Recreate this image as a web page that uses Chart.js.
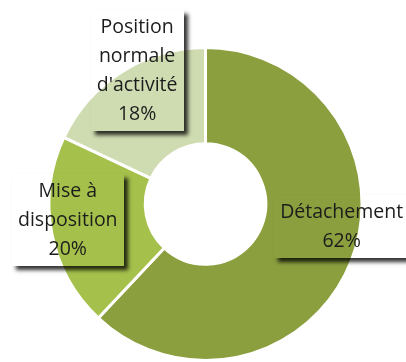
<!DOCTYPE html>
<html>
<head>
<meta charset="utf-8">
<script src="https://cdn.jsdelivr.net/npm/chart.js@4/dist/chart.umd.min.js"></script>
<style>
  html, body { margin: 0; padding: 0; background: #ffffff; }
  #wrap { width: 406px; height: 362px; position: relative; }
</style>
</head>
<body>
<div id="wrap"><canvas id="c" width="406" height="362"></canvas></div>
<script>
// ---- data ----
const categories = ["Détachement", "Mise à disposition", "Position normale d'activité"];
const labelLines = [["Détachement", "62%"], ["Mise à", "disposition", "20%"], ["Position", "normale", "d'activité", "18%"]];
const values = [62, 20, 18];
const colors = ["#8B9F3E", "#A5C14B", "#CFDCB1"];
// label box centre, as fraction of outer radius from the ring centre
const labelOffsets = [[0.87, 0.145], [-0.88, 0.10], [-0.437, -0.85]];

const labelBoxes = {
  id: 'labelBoxes',
  afterDatasetsDraw(chart) {
    const ctx = chart.ctx;
    const meta = chart.getDatasetMeta(0);
    const font = '19.5px "Open Sans"';
    const lineH = 29;
    const far = 5000;
    meta.data.forEach((arc, i) => {
      const cx = arc.x + labelOffsets[i][0] * arc.outerRadius;
      const cy = arc.y + labelOffsets[i][1] * arc.outerRadius;
      ctx.save();
      ctx.font = font;
      const lines = labelLines[i];
      let w = 0;
      lines.forEach(l => { w = Math.max(w, ctx.measureText(l).width); });
      const bw = Math.round(w + 12);
      const bh = lines.length * lineH + 5;
      const bx = Math.round(cx - bw / 2), by = Math.round(cy - bh / 2);
      // shadow only outside the (transparent) box
      ctx.beginPath();
      ctx.rect(0, 0, chart.width, chart.height);
      ctx.rect(bx, by, bw, bh);
      ctx.clip('evenodd');
      ctx.shadowColor = 'rgba(0,0,0,0.8)';
      ctx.shadowBlur = 4;
      ctx.shadowOffsetX = far + 4;
      ctx.shadowOffsetY = 4;
      ctx.fillStyle = '#000';
      ctx.fillRect(bx - far, by, bw, bh);
      ctx.restore();
      ctx.save();
      ctx.font = font;
      ctx.fillStyle = '#1c1c1c';
      ctx.textAlign = 'center';
      ctx.textBaseline = 'middle';
      lines.forEach((l, k) => {
        ctx.fillText(l, cx, by + 3 + lineH * (k + 0.5));
      });
      ctx.restore();
    });
  }
};

new Chart(document.getElementById('c'), {
  type: 'doughnut',
  data: {
    labels: categories,
    datasets: [{
      data: values,
      backgroundColor: colors,
      borderColor: '#ffffff',
      borderWidth: 3,
      hoverOffset: 0
    }]
  },
  options: {
    responsive: false,
    animation: false,
    cutout: '38.5%',
    layout: { padding: { top: 46, left: 5, right: 0, bottom: 0 } },
    plugins: {
      legend: { display: false },
      tooltip: { enabled: false }
    }
  },
  plugins: [labelBoxes]
});
</script>
</body>
</html>
